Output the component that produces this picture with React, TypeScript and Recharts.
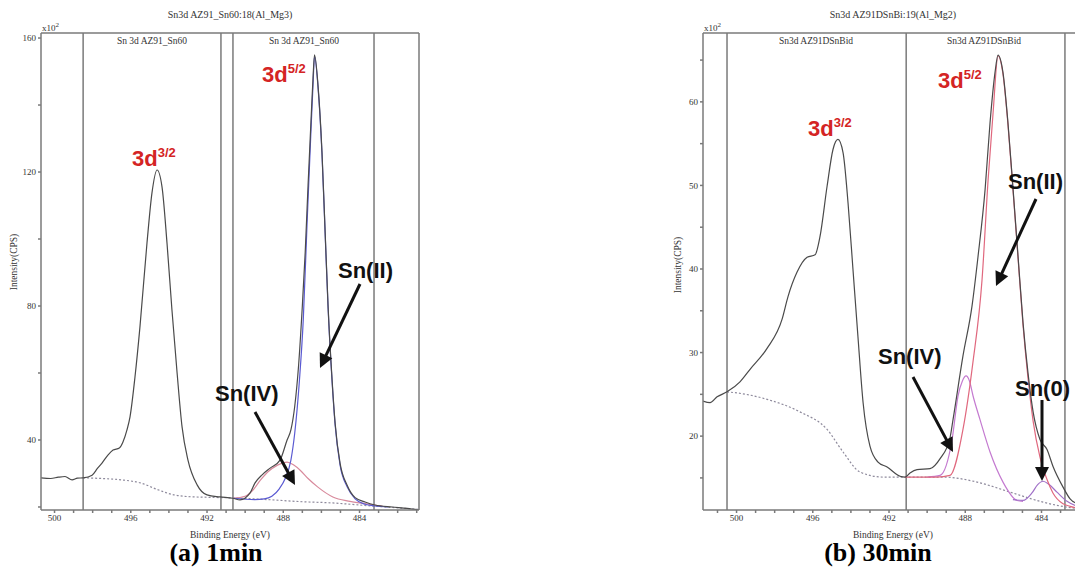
import { LineChart, Line, XAxis, YAxis, ReferenceLine } from "recharts";

// ---- panel (a) 1min : binding energy (eV) / intensity (x10^2 CPS)
const aEnvE = [500.71, 500.2, 499.8, 499.45, 499.08, 498.8, 498.5, 498.03, 497.75, 497.51, 497.2, 496.93, 496.6, 496.41, 496.2, 496.04, 495.78, 495.52, 495.15, 494.89, 494.62, 494.36, 494.1, 493.84, 493.57, 493.31, 493.0, 492.52, 492.0, 491.32, 490.64, 490.27, 489.74, 489.48, 489.11, 488.69, 488.17, 487.8, 487.6, 487.4, 487.2, 487.0, 486.85, 486.7, 486.54, 486.44, 486.36, 486.18, 485.97, 485.81, 485.65, 485.44, 485.28, 485.02, 484.65, 484.23, 483.71, 483.19, 482.29, 481.5, 480.88];
const aEnvI = [28.7, 28.5, 28.9, 29.1, 28.1, 28.6, 28.7, 29.5, 31.5, 33.1, 35.5, 37.0, 37.6, 39.4, 43.0, 46.9, 58.8, 73.7, 98.8, 113.7, 120.6, 115.5, 98.8, 78.8, 60.0, 43.9, 34.0, 26.6, 23.6, 23.0, 22.6, 22.1, 24.2, 27.2, 29.6, 31.6, 34.0, 40.0, 43.0, 50.0, 62.0, 80.0, 96.0, 116.0, 136.0, 148.0, 155.0, 146.0, 126.0, 103.0, 80.0, 58.0, 45.0, 33.0, 26.5, 22.8, 21.5, 20.6, 20.0, 19.6, 19.1];

const aSn2E = [490.6, 489.5, 489.0, 488.6, 488.2, 487.9, 487.6, 487.4, 487.15, 486.95, 486.75, 486.55, 486.44, 486.36, 486.18, 485.97, 485.81, 485.65, 485.44, 485.28, 485.02, 484.65, 484.23, 483.71, 483.19, 482.5];
const aSn2I = [22.6, 22.2, 22.4, 23.2, 25.5, 28.5, 34.0, 42.0, 58.0, 76.0, 105.0, 132.0, 146.0, 154.5, 145.5, 125.5, 102.5, 79.5, 57.5, 44.5, 32.5, 26.0, 22.4, 20.8, 20.3, 20.0];

const aSn4E = [490.64, 490.0, 489.6, 489.2, 488.8, 488.3, 487.8, 487.45, 487.1, 486.7, 486.2, 485.4, 484.5, 483.6, 482.8];
const aSn4I = [22.6, 23.2, 25.0, 28.0, 30.5, 32.5, 33.4, 32.5, 30.9, 28.5, 26.0, 23.0, 21.7, 20.9, 20.3];

const aBgE = [498.5, 497.5, 496.5, 495.5, 494.6, 493.8, 493.0, 492.0, 490.64, 488.8, 487.1, 485.4, 483.6, 480.88];
const aBgI = [28.7, 28.5, 28.1, 27.2, 25.2, 23.7, 23.1, 22.9, 22.7, 22.2, 21.6, 21.2, 20.4, 19.3];

const aRegions = [498.5, 491.27, 490.64, 483.24];
const aXTicks = [481, 482, 483, 484, 485, 486, 487, 488, 489, 490, 491, 492, 493, 494, 495, 496, 497, 498, 499, 500];
const aYTicks = [20, 40, 60, 80, 100, 120, 140, 160];

// ---- panel (b) 30min
const bEnvE = [501.76, 501.39, 501.02, 500.5, 499.82, 499.29, 498.4, 497.61, 497.3, 496.83, 496.3, 495.88, 495.62, 495.25, 494.94, 494.68, 494.41, 494.15, 493.89, 493.63, 493.36, 493.0, 492.58, 492.1, 491.42, 491.16, 490.9, 490.53, 489.85, 489.32, 488.8, 488.64, 488.12, 487.65, 487.33, 486.96, 486.7, 486.44, 486.28, 486.02, 485.76, 485.49, 485.23, 484.97, 484.71, 484.44, 484.08, 483.71, 483.4, 482.87, 482.5, 481.98];
const bEnvI = [24.2, 24.0, 24.7, 25.3, 26.5, 28.0, 30.5, 34.0, 36.7, 39.6, 41.4, 41.7, 43.9, 49.9, 54.3, 55.5, 53.9, 47.9, 39.9, 31.9, 24.0, 18.8, 16.9, 16.3, 15.2, 15.1, 15.6, 16.0, 16.1, 17.3, 19.8, 22.0, 29.6, 35.5, 41.5, 49.5, 57.5, 63.5, 65.6, 63.5, 57.5, 49.5, 41.5, 33.6, 27.6, 22.9, 19.6, 18.4, 16.4, 13.9, 12.5, 11.8];

const bSn2E = [491.16, 489.5, 488.8, 488.12, 487.6, 487.12, 486.8, 486.54, 486.28, 486.02, 485.76, 485.49, 485.23, 484.97, 484.71, 484.44, 484.08, 483.71, 483.4, 482.87, 482.5, 481.98];
const bSn2I = [15.1, 15.1, 15.3, 20.8, 28.8, 38.7, 50.7, 58.7, 65.5, 63.3, 57.3, 49.3, 41.3, 33.3, 27.0, 21.8, 17.5, 14.8, 13.2, 11.9, 11.6, 11.3];

const bSn4E = [490.0, 489.32, 488.69, 488.38, 488.15, 487.96, 487.78, 487.59, 487.23, 486.7, 486.02, 485.28, 484.97];
const bSn4I = [15.1, 15.3, 19.6, 24.8, 26.6, 27.2, 26.6, 24.8, 22.0, 18.1, 14.5, 12.3, 12.2];

const bSn0E = [485.5, 484.97, 484.5, 484.2, 483.92, 483.6, 483.19, 482.66, 481.98];
const bSn0I = [12.4, 12.3, 13.2, 14.2, 14.6, 14.2, 13.3, 12.2, 11.5];

const bBgE = [500.5, 499.5, 498.4, 496.67, 495.25, 494.41, 493.52, 492.31, 491.16, 489.17, 487.38, 485.65, 483.92, 482.66, 481.98];
const bBgI = [25.3, 25.0, 24.4, 22.9, 20.8, 18.1, 15.7, 15.1, 15.1, 15.1, 14.5, 13.3, 12.1, 11.5, 11.3];

const bRegions = [500.5, 491.1, 482.77];
const bXTicks = [482, 483, 484, 485, 486, 487, 488, 489, 490, 491, 492, 493, 494, 495, 496, 497, 498, 499, 500, 501];
const bYTicks = [15, 20, 25, 30, 35, 40, 45, 50, 55, 60, 65];

const SERIF = '"Liberation Serif", "Times New Roman", serif';
const SANS = '"Liberation Sans", Arial, sans-serif';
const RED = "#d42424";
const AXIS = "#7a7a7a";
const ENV = "#4a4a4a";
const BG = "#8e8a9c";

const zip = (e: number[], v: number[]) => e.map((x, i) => ({ e: x, v: v[i] }));

type Series = { e: number[]; v: number[]; color: string; dash?: string };

interface PanelProps {
  left: number;
  width: number;
  marginRight: number;
  yAxisWidth: number;
  xDomain: [number, number];
  yDomain: [number, number];
  xTicks: number[];
  yTicks: number[];
  yMajor: number;
  regions: number[];
  series: Series[];
}

function Panel(p: PanelProps) {
  const tick = { fontSize: 9, fill: "#333", fontFamily: SERIF };
  return (
    <div style={{ position: "absolute", left: p.left, top: 0 }}>
      <LineChart
        width={p.width}
        height={569}
        margin={{ top: 33, right: p.marginRight, bottom: 0, left: 0 }}
      >
        <XAxis
          type="number"
          dataKey="e"
          domain={p.xDomain}
          reversed
          allowDataOverflow
          ticks={p.xTicks}
          interval={0}
          height={59}
          tickSize={3}
          stroke={AXIS}
          strokeWidth={1.5}
          tick={tick}
          tickFormatter={(t: number) => (t % 4 === 0 ? String(t) : "")}
        />
        <YAxis
          type="number"
          dataKey="v"
          domain={p.yDomain}
          allowDataOverflow
          ticks={p.yTicks}
          interval={0}
          width={p.yAxisWidth}
          tickSize={3}
          stroke={AXIS}
          strokeWidth={1.5}
          tick={tick}
          tickFormatter={(t: number) => (t % p.yMajor === 0 ? String(t) : "")}
        />
        <ReferenceLine y={p.yDomain[1]} stroke={AXIS} strokeWidth={1.5} />
        <ReferenceLine x={p.xDomain[0]} stroke={AXIS} strokeWidth={1.5} />
        {p.regions.map((r) => (
          <ReferenceLine key={r} x={r} stroke={AXIS} strokeWidth={1.5} />
        ))}
        {p.series.map((s, i) => (
          <Line
            key={i}
            data={zip(s.e, s.v)}
            dataKey="v"
            type="monotone"
            stroke={s.color}
            strokeWidth={1.2}
            strokeDasharray={s.dash}
            dot={false}
            activeDot={false}
            isAnimationActive={false}
          />
        ))}
      </LineChart>
    </div>
  );
}

function Arrow({ x1, y1, x2, y2 }: { x1: number; y1: number; x2: number; y2: number }) {
  const dx = x2 - x1;
  const dy = y2 - y1;
  const len = Math.hypot(dx, dy);
  const ux = dx / len;
  const uy = dy / len;
  const hl = 14;
  const hw = 7;
  const bx = x2 - ux * hl;
  const by = y2 - uy * hl;
  return (
    <g>
      <line x1={x1} y1={y1} x2={bx + ux * 2} y2={by + uy * 2} stroke="#111" strokeWidth={3} />
      <polygon
        points={`${x2},${y2} ${bx - uy * hw},${by + ux * hw} ${bx + uy * hw},${by - ux * hw}`}
        fill="#111"
      />
    </g>
  );
}

function Peak({ x, y, sup }: { x: number; y: number; sup: string }) {
  return (
    <text x={x} y={y} fill={RED} fontFamily={SANS} fontWeight="bold" fontSize={22}>
      3d
      <tspan fontSize={13} dy={-9}>
        {sup}
      </tspan>
    </text>
  );
}

function Tag({ x, y, label }: { x: number; y: number; label: string }) {
  return (
    <text x={x} y={y} fill="#111" fontFamily={SANS} fontWeight="bold" fontSize={22}>
      {label}
    </text>
  );
}

function Small({ x, y, children, size = 9.5 }: { x: number; y: number; children: any; size?: number }) {
  return (
    <text x={x} y={y} fill="#333" fontFamily={SERIF} fontSize={size} textAnchor="middle">
      {children}
    </text>
  );
}

export default function App() {
  return (
    <div
      style={{
        position: "absolute",
        left: 0,
        top: 0,
        width: 1075,
        height: 569,
        overflow: "hidden",
        background: "#fff",
      }}
    >
      <Panel
        left={0}
        width={440}
        marginRight={21}
        yAxisWidth={41}
        xDomain={[480.88, 500.71]}
        yDomain={[19.1, 161.5]}
        xTicks={aXTicks}
        yTicks={aYTicks}
        yMajor={40}
        regions={aRegions}
        series={[
          { e: aBgE, v: aBgI, color: BG, dash: "2 2" },
          { e: aSn4E, v: aSn4I, color: "#d88a9c" },
          { e: aSn2E, v: aSn2I, color: "#5a5ad2" },
          { e: aEnvE, v: aEnvI, color: ENV },
        ]}
      />
      <Panel
        left={660}
        width={440}
        marginRight={20}
        yAxisWidth={43}
        xDomain={[481.98, 501.76]}
        yDomain={[11.16, 68.24]}
        xTicks={bXTicks}
        yTicks={bYTicks}
        yMajor={10}
        regions={bRegions}
        series={[
          { e: bBgE, v: bBgI, color: BG, dash: "2 2" },
          { e: bSn4E, v: bSn4I, color: "#c47ad0" },
          { e: bSn0E, v: bSn0I, color: "#a070c8" },
          { e: bSn2E, v: bSn2I, color: "#e0687e" },
          { e: bEnvE, v: bEnvI, color: ENV },
        ]}
      />
      <svg
        width={1075}
        height={569}
        style={{ position: "absolute", left: 0, top: 0, pointerEvents: "none" }}
      >
        {/* titles */}
        <Small x={230} y={18} size={10}>Sn3d AZ91_Sn60:18(Al_Mg3)</Small>
        <Small x={893} y={18} size={10}>Sn3d AZ91DSnBi:19(Al_Mg2)</Small>
        <text x={42} y={31} fill="#333" fontFamily={SERIF} fontSize={9}>
          x10<tspan fontSize={7} dy={-4}>2</tspan>
        </text>
        <text x={704} y={31} fill="#333" fontFamily={SERIF} fontSize={9}>
          x10<tspan fontSize={7} dy={-4}>2</tspan>
        </text>
        <Small x={152} y={44}>Sn 3d AZ91_Sn60</Small>
        <Small x={304} y={44}>Sn 3d AZ91_Sn60</Small>
        <Small x={816} y={44}>Sn3d AZ91DSnBid</Small>
        <Small x={984} y={44}>Sn3d AZ91DSnBid</Small>

        {/* axis titles */}
        <Small x={230} y={538}>Binding Energy (eV)</Small>
        <Small x={893} y={538}>Binding Energy (eV)</Small>
        <text
          x={15}
          y={262}
          transform="rotate(-90 15 262)"
          fill="#333"
          fontFamily={SERIF}
          fontSize={9.5}
          textAnchor="middle"
          dominantBaseline="middle"
        >
          Intensity(CPS)
        </text>
        <text
          x={679}
          y={265}
          transform="rotate(-90 679 265)"
          fill="#333"
          fontFamily={SERIF}
          fontSize={9.5}
          textAnchor="middle"
          dominantBaseline="middle"
        >
          Intensity(CPS)
        </text>

        {/* captions */}
        <text x={216} y={561} fill="#000" fontFamily={SERIF} fontWeight="bold" fontSize={26} textAnchor="middle">
          (a) 1min
        </text>
        <text x={878} y={561} fill="#000" fontFamily={SERIF} fontWeight="bold" fontSize={26} textAnchor="middle">
          (b) 30min
        </text>

        {/* peak labels */}
        <Peak x={132} y={166} sup="3/2" />
        <Peak x={262} y={82} sup="5/2" />
        <Peak x={808} y={136} sup="3/2" />
        <Peak x={938} y={88} sup="5/2" />

        <Tag x={338} y={278} label="Sn(II)" />
        <Tag x={215} y={401} label="Sn(IV)" />
        <Tag x={1008} y={189} label="Sn(II)" />
        <Tag x={878} y={364} label="Sn(IV)" />
        <Tag x={1015} y={396} label="Sn(0)" />

        <Arrow x1={360} y1={284} x2={320} y2={368} />
        <Arrow x1={255} y1={412} x2={295} y2={485} />
        <Arrow x1={1036} y1={199} x2={996} y2={286} />
        <Arrow x1={913} y1={377} x2={953} y2={452} />
        <Arrow x1={1042} y1={400} x2={1042} y2={481} />
      </svg>
    </div>
  );
}
